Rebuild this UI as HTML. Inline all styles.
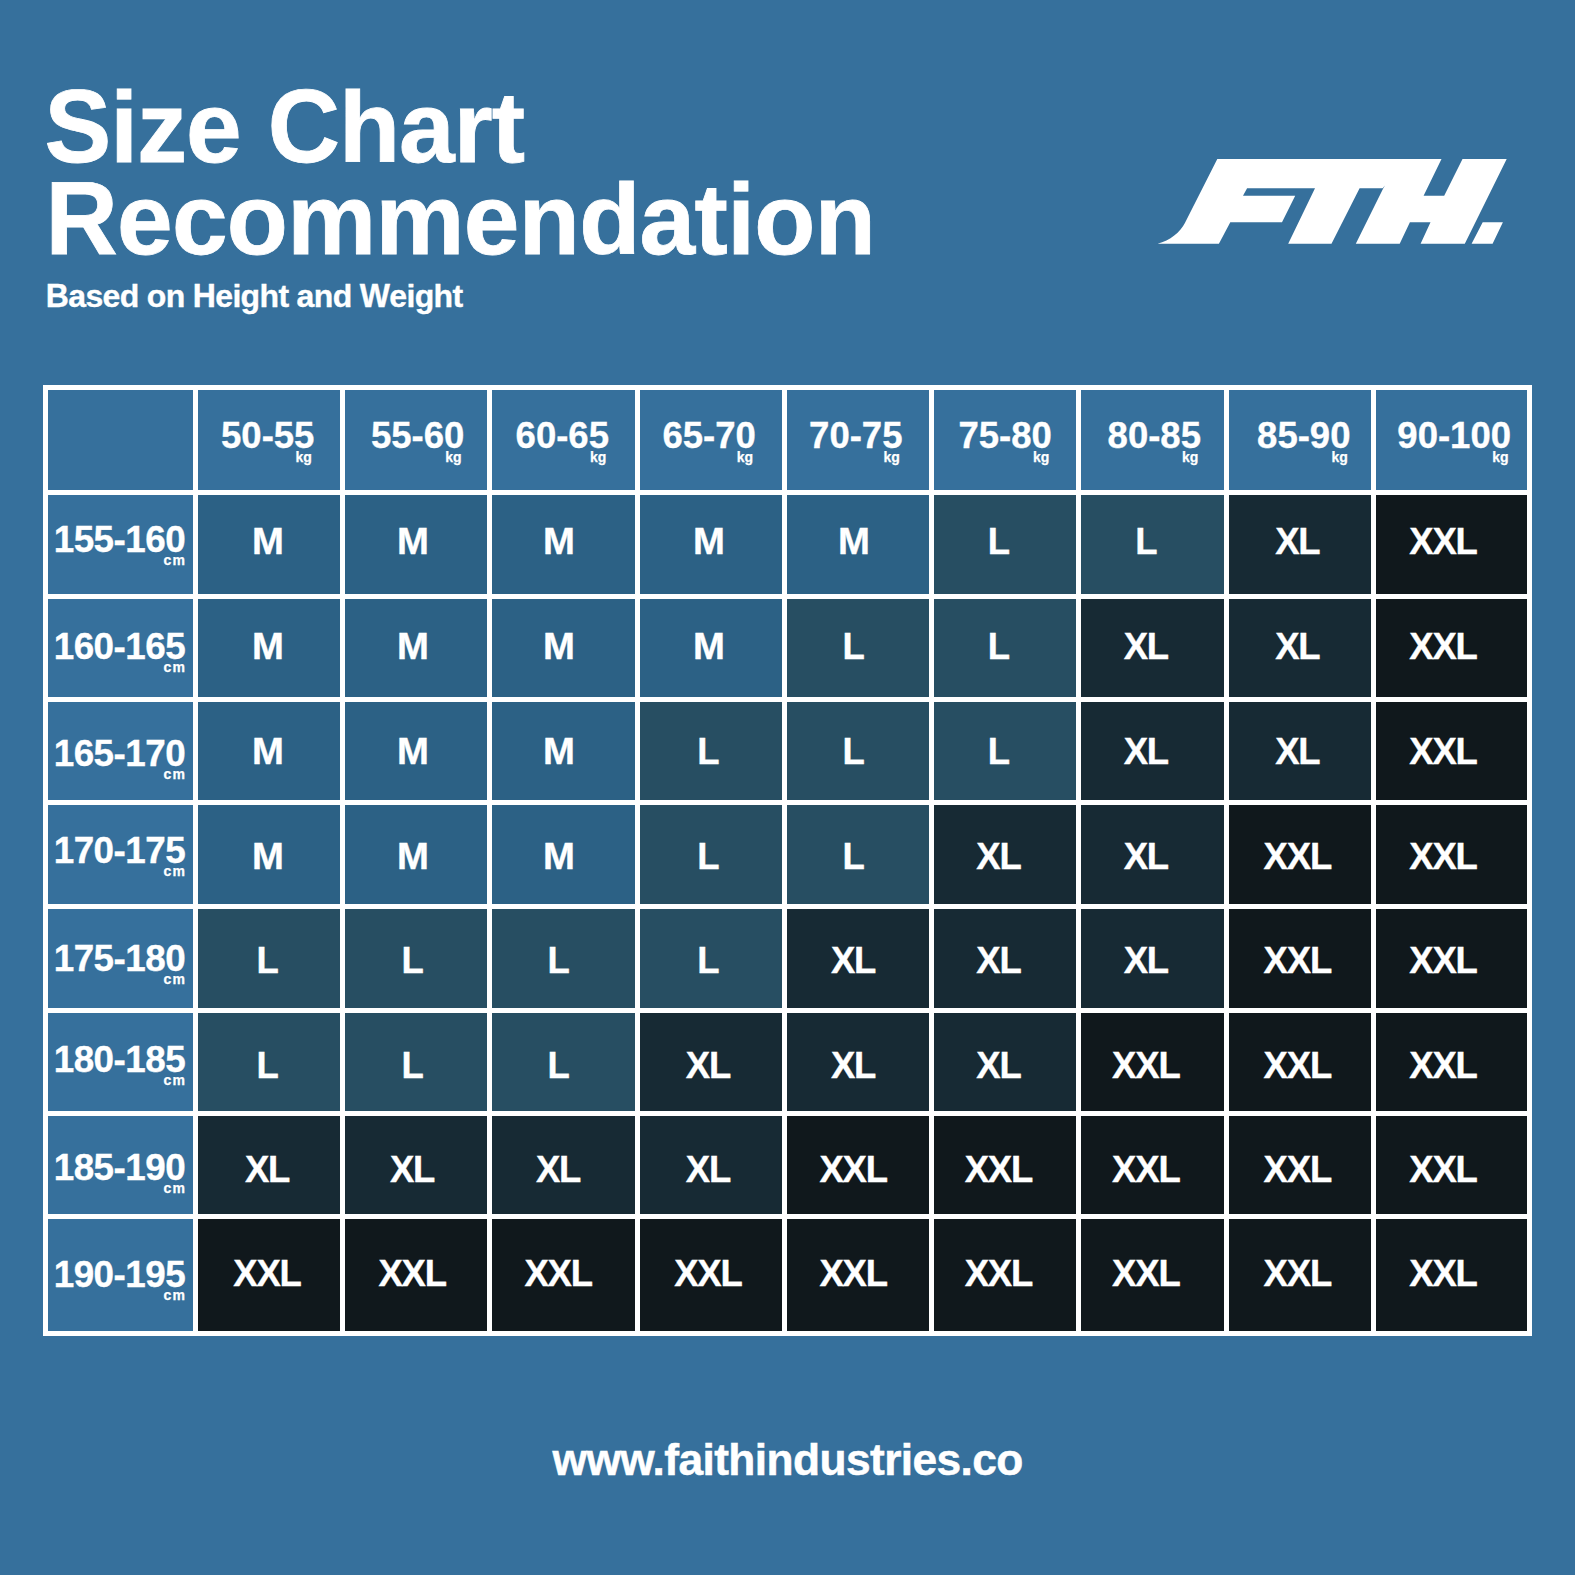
<!DOCTYPE html>
<html><head><meta charset="utf-8"><title>Size Chart Recommendation</title>
<style>
html,body{margin:0;padding:0;}
body{width:1575px;height:1575px;background:#36709c;position:relative;overflow:hidden;font-family:"Liberation Sans",sans-serif;font-weight:bold;color:#fff;}
.t{position:absolute;white-space:nowrap;line-height:1;}
.c{width:300px;text-align:center;}
.cap{display:inline-block;transform-origin:50% 85%;}
.s{-webkit-text-stroke:0.35px #fff;}
</style></head><body>
<div class="t" style="left:44.40px;top:77.40px;font-size:100px;letter-spacing:-0.93px;-webkit-text-stroke:0.8px #fff;"><span class="cap" style="transform:scaleY(1.045)">S</span>ize <span class="cap" style="transform:scaleY(1.045)">C</span>hart</div>
<div class="t" style="left:45.40px;top:169.20px;font-size:100px;letter-spacing:-0.66px;-webkit-text-stroke:0.8px #fff;"><span class="cap" style="transform:scaleY(1.045)">R</span>ecommendation</div>
<div class="t" style="left:45.80px;top:279.80px;font-size:32px;letter-spacing:-0.66px;-webkit-text-stroke:0.35px #fff;"><span class="cap" style="transform:scaleY(1.04)">B</span>ased on <span class="cap" style="transform:scaleY(1.04)">H</span>eight and <span class="cap" style="transform:scaleY(1.04)">W</span>eight</div>
<svg style="position:absolute;left:0;top:0" width="1575" height="300" viewBox="0 0 1575 300"><path fill="#fff" d="M1157.6,243.8 C1170,240.5 1180.5,232 1184.9,223 L1217.3,159 L1441.5,159 L1423.6,195.7 L1444.2,195.7 L1462.5,159 L1506.7,159 L1464.8,243.8 L1420.6,243.8 L1430.5,222.3 L1409.9,222.3 L1399.7,243.8 L1355.8,243.8 L1383.3,188.2 L1385,185.6 L1382.6,188.2 L1359.6,188.2 L1331.5,243.8 L1288.2,243.8 L1315,188.2 L1247.1,188.2 L1243,195.7 L1295.2,195.7 L1282,222.2 L1230.3,222.2 L1218.9,243.8 Z M1482.7,222.3 L1502.9,222.3 L1492.6,243.8 L1471.6,243.8 Z"/></svg>
<div style="position:absolute;left:43px;top:385px;width:1489px;height:951px;background:#fff"></div><div style="position:absolute;left:48px;top:390px;width:145px;height:100px;background:#36709c"></div><div style="position:absolute;left:198px;top:390px;width:142px;height:100px;background:#36709c"></div><div style="position:absolute;left:345px;top:390px;width:142px;height:100px;background:#36709c"></div><div style="position:absolute;left:492px;top:390px;width:143px;height:100px;background:#36709c"></div><div style="position:absolute;left:640px;top:390px;width:142px;height:100px;background:#36709c"></div><div style="position:absolute;left:787px;top:390px;width:142px;height:100px;background:#36709c"></div><div style="position:absolute;left:934px;top:390px;width:142px;height:100px;background:#36709c"></div><div style="position:absolute;left:1081px;top:390px;width:143px;height:100px;background:#36709c"></div><div style="position:absolute;left:1229px;top:390px;width:142px;height:100px;background:#36709c"></div><div style="position:absolute;left:1376px;top:390px;width:151px;height:100px;background:#36709c"></div><div style="position:absolute;left:48px;top:495px;width:145px;height:99px;background:#36709c"></div><div style="position:absolute;left:198px;top:495px;width:142px;height:99px;background:#2c6185"></div><div style="position:absolute;left:345px;top:495px;width:142px;height:99px;background:#2c6185"></div><div style="position:absolute;left:492px;top:495px;width:143px;height:99px;background:#2c6185"></div><div style="position:absolute;left:640px;top:495px;width:142px;height:99px;background:#2c6185"></div><div style="position:absolute;left:787px;top:495px;width:142px;height:99px;background:#2c6185"></div><div style="position:absolute;left:934px;top:495px;width:142px;height:99px;background:#274e62"></div><div style="position:absolute;left:1081px;top:495px;width:143px;height:99px;background:#274e62"></div><div style="position:absolute;left:1229px;top:495px;width:142px;height:99px;background:#172a34"></div><div style="position:absolute;left:1376px;top:495px;width:151px;height:99px;background:#10181c"></div><div style="position:absolute;left:48px;top:599px;width:145px;height:98px;background:#36709c"></div><div style="position:absolute;left:198px;top:599px;width:142px;height:98px;background:#2c6185"></div><div style="position:absolute;left:345px;top:599px;width:142px;height:98px;background:#2c6185"></div><div style="position:absolute;left:492px;top:599px;width:143px;height:98px;background:#2c6185"></div><div style="position:absolute;left:640px;top:599px;width:142px;height:98px;background:#2c6185"></div><div style="position:absolute;left:787px;top:599px;width:142px;height:98px;background:#274e62"></div><div style="position:absolute;left:934px;top:599px;width:142px;height:98px;background:#274e62"></div><div style="position:absolute;left:1081px;top:599px;width:143px;height:98px;background:#172a34"></div><div style="position:absolute;left:1229px;top:599px;width:142px;height:98px;background:#172a34"></div><div style="position:absolute;left:1376px;top:599px;width:151px;height:98px;background:#10181c"></div><div style="position:absolute;left:48px;top:702px;width:145px;height:98px;background:#36709c"></div><div style="position:absolute;left:198px;top:702px;width:142px;height:98px;background:#2c6185"></div><div style="position:absolute;left:345px;top:702px;width:142px;height:98px;background:#2c6185"></div><div style="position:absolute;left:492px;top:702px;width:143px;height:98px;background:#2c6185"></div><div style="position:absolute;left:640px;top:702px;width:142px;height:98px;background:#274e62"></div><div style="position:absolute;left:787px;top:702px;width:142px;height:98px;background:#274e62"></div><div style="position:absolute;left:934px;top:702px;width:142px;height:98px;background:#274e62"></div><div style="position:absolute;left:1081px;top:702px;width:143px;height:98px;background:#172a34"></div><div style="position:absolute;left:1229px;top:702px;width:142px;height:98px;background:#172a34"></div><div style="position:absolute;left:1376px;top:702px;width:151px;height:98px;background:#10181c"></div><div style="position:absolute;left:48px;top:805px;width:145px;height:99px;background:#36709c"></div><div style="position:absolute;left:198px;top:805px;width:142px;height:99px;background:#2c6185"></div><div style="position:absolute;left:345px;top:805px;width:142px;height:99px;background:#2c6185"></div><div style="position:absolute;left:492px;top:805px;width:143px;height:99px;background:#2c6185"></div><div style="position:absolute;left:640px;top:805px;width:142px;height:99px;background:#274e62"></div><div style="position:absolute;left:787px;top:805px;width:142px;height:99px;background:#274e62"></div><div style="position:absolute;left:934px;top:805px;width:142px;height:99px;background:#172a34"></div><div style="position:absolute;left:1081px;top:805px;width:143px;height:99px;background:#172a34"></div><div style="position:absolute;left:1229px;top:805px;width:142px;height:99px;background:#10181c"></div><div style="position:absolute;left:1376px;top:805px;width:151px;height:99px;background:#10181c"></div><div style="position:absolute;left:48px;top:909px;width:145px;height:99px;background:#36709c"></div><div style="position:absolute;left:198px;top:909px;width:142px;height:99px;background:#274e62"></div><div style="position:absolute;left:345px;top:909px;width:142px;height:99px;background:#274e62"></div><div style="position:absolute;left:492px;top:909px;width:143px;height:99px;background:#274e62"></div><div style="position:absolute;left:640px;top:909px;width:142px;height:99px;background:#274e62"></div><div style="position:absolute;left:787px;top:909px;width:142px;height:99px;background:#172a34"></div><div style="position:absolute;left:934px;top:909px;width:142px;height:99px;background:#172a34"></div><div style="position:absolute;left:1081px;top:909px;width:143px;height:99px;background:#172a34"></div><div style="position:absolute;left:1229px;top:909px;width:142px;height:99px;background:#10181c"></div><div style="position:absolute;left:1376px;top:909px;width:151px;height:99px;background:#10181c"></div><div style="position:absolute;left:48px;top:1013px;width:145px;height:98px;background:#36709c"></div><div style="position:absolute;left:198px;top:1013px;width:142px;height:98px;background:#274e62"></div><div style="position:absolute;left:345px;top:1013px;width:142px;height:98px;background:#274e62"></div><div style="position:absolute;left:492px;top:1013px;width:143px;height:98px;background:#274e62"></div><div style="position:absolute;left:640px;top:1013px;width:142px;height:98px;background:#172a34"></div><div style="position:absolute;left:787px;top:1013px;width:142px;height:98px;background:#172a34"></div><div style="position:absolute;left:934px;top:1013px;width:142px;height:98px;background:#172a34"></div><div style="position:absolute;left:1081px;top:1013px;width:143px;height:98px;background:#10181c"></div><div style="position:absolute;left:1229px;top:1013px;width:142px;height:98px;background:#10181c"></div><div style="position:absolute;left:1376px;top:1013px;width:151px;height:98px;background:#10181c"></div><div style="position:absolute;left:48px;top:1116px;width:145px;height:98px;background:#36709c"></div><div style="position:absolute;left:198px;top:1116px;width:142px;height:98px;background:#172a34"></div><div style="position:absolute;left:345px;top:1116px;width:142px;height:98px;background:#172a34"></div><div style="position:absolute;left:492px;top:1116px;width:143px;height:98px;background:#172a34"></div><div style="position:absolute;left:640px;top:1116px;width:142px;height:98px;background:#172a34"></div><div style="position:absolute;left:787px;top:1116px;width:142px;height:98px;background:#10181c"></div><div style="position:absolute;left:934px;top:1116px;width:142px;height:98px;background:#10181c"></div><div style="position:absolute;left:1081px;top:1116px;width:143px;height:98px;background:#10181c"></div><div style="position:absolute;left:1229px;top:1116px;width:142px;height:98px;background:#10181c"></div><div style="position:absolute;left:1376px;top:1116px;width:151px;height:98px;background:#10181c"></div><div style="position:absolute;left:48px;top:1219px;width:145px;height:112px;background:#36709c"></div><div style="position:absolute;left:198px;top:1219px;width:142px;height:112px;background:#10181c"></div><div style="position:absolute;left:345px;top:1219px;width:142px;height:112px;background:#10181c"></div><div style="position:absolute;left:492px;top:1219px;width:143px;height:112px;background:#10181c"></div><div style="position:absolute;left:640px;top:1219px;width:142px;height:112px;background:#10181c"></div><div style="position:absolute;left:787px;top:1219px;width:142px;height:112px;background:#10181c"></div><div style="position:absolute;left:934px;top:1219px;width:142px;height:112px;background:#10181c"></div><div style="position:absolute;left:1081px;top:1219px;width:143px;height:112px;background:#10181c"></div><div style="position:absolute;left:1229px;top:1219px;width:142px;height:112px;background:#10181c"></div><div style="position:absolute;left:1376px;top:1219px;width:151px;height:112px;background:#10181c"></div><div class="t c" style="left:117.75px;top:418.18px;font-size:36.5px;letter-spacing:0.00px;-webkit-text-stroke:0.35px #fff;">50-55</div><div class="t" style="left:295.47px;top:449.50px;font-size:14px;letter-spacing:0.00px;-webkit-text-stroke:0.25px #fff;">kg</div><div class="t c" style="left:267.60px;top:418.18px;font-size:36.5px;letter-spacing:0.00px;-webkit-text-stroke:0.35px #fff;">55-60</div><div class="t" style="left:445.32px;top:449.50px;font-size:14px;letter-spacing:0.00px;-webkit-text-stroke:0.25px #fff;">kg</div><div class="t c" style="left:412.30px;top:418.18px;font-size:36.5px;letter-spacing:0.00px;-webkit-text-stroke:0.35px #fff;">60-65</div><div class="t" style="left:590.02px;top:449.50px;font-size:14px;letter-spacing:0.00px;-webkit-text-stroke:0.25px #fff;">kg</div><div class="t c" style="left:559.10px;top:418.18px;font-size:36.5px;letter-spacing:0.00px;-webkit-text-stroke:0.35px #fff;">65-70</div><div class="t" style="left:736.83px;top:449.50px;font-size:14px;letter-spacing:0.00px;-webkit-text-stroke:0.25px #fff;">kg</div><div class="t c" style="left:705.80px;top:418.18px;font-size:36.5px;letter-spacing:0.00px;-webkit-text-stroke:0.35px #fff;">70-75</div><div class="t" style="left:883.52px;top:449.50px;font-size:14px;letter-spacing:0.00px;-webkit-text-stroke:0.25px #fff;">kg</div><div class="t c" style="left:855.20px;top:418.18px;font-size:36.5px;letter-spacing:0.00px;-webkit-text-stroke:0.35px #fff;">75-80</div><div class="t" style="left:1032.92px;top:449.50px;font-size:14px;letter-spacing:0.00px;-webkit-text-stroke:0.25px #fff;">kg</div><div class="t c" style="left:1004.30px;top:418.18px;font-size:36.5px;letter-spacing:0.00px;-webkit-text-stroke:0.35px #fff;">80-85</div><div class="t" style="left:1182.02px;top:449.50px;font-size:14px;letter-spacing:0.00px;-webkit-text-stroke:0.25px #fff;">kg</div><div class="t c" style="left:1153.80px;top:418.18px;font-size:36.5px;letter-spacing:0.00px;-webkit-text-stroke:0.35px #fff;">85-90</div><div class="t" style="left:1331.52px;top:449.50px;font-size:14px;letter-spacing:0.00px;-webkit-text-stroke:0.25px #fff;">kg</div><div class="t c" style="left:1304.20px;top:418.18px;font-size:36.5px;letter-spacing:0.00px;-webkit-text-stroke:0.35px #fff;">90-100</div><div class="t" style="left:1492.33px;top:449.50px;font-size:14px;letter-spacing:0.00px;-webkit-text-stroke:0.25px #fff;">kg</div><div class="t" style="left:53.69px;top:521.72px;font-size:36.8px;letter-spacing:-0.50px;-webkit-text-stroke:0.35px #fff;">155-160</div><div class="t" style="left:163.38px;top:552.70px;font-size:14px;letter-spacing:1.40px;-webkit-text-stroke:0.25px #fff;">cm</div><div class="t" style="left:53.69px;top:628.52px;font-size:36.8px;letter-spacing:-0.50px;-webkit-text-stroke:0.35px #fff;">160-165</div><div class="t" style="left:163.38px;top:659.50px;font-size:14px;letter-spacing:1.40px;-webkit-text-stroke:0.25px #fff;">cm</div><div class="t" style="left:53.69px;top:736.42px;font-size:36.8px;letter-spacing:-0.50px;-webkit-text-stroke:0.35px #fff;">165-170</div><div class="t" style="left:163.38px;top:767.40px;font-size:14px;letter-spacing:1.40px;-webkit-text-stroke:0.25px #fff;">cm</div><div class="t" style="left:53.69px;top:833.02px;font-size:36.8px;letter-spacing:-0.50px;-webkit-text-stroke:0.35px #fff;">170-175</div><div class="t" style="left:163.38px;top:864.00px;font-size:14px;letter-spacing:1.40px;-webkit-text-stroke:0.25px #fff;">cm</div><div class="t" style="left:53.69px;top:940.62px;font-size:36.8px;letter-spacing:-0.50px;-webkit-text-stroke:0.35px #fff;">175-180</div><div class="t" style="left:163.38px;top:971.60px;font-size:14px;letter-spacing:1.40px;-webkit-text-stroke:0.25px #fff;">cm</div><div class="t" style="left:53.69px;top:1042.12px;font-size:36.8px;letter-spacing:-0.50px;-webkit-text-stroke:0.35px #fff;">180-185</div><div class="t" style="left:163.38px;top:1073.10px;font-size:14px;letter-spacing:1.40px;-webkit-text-stroke:0.25px #fff;">cm</div><div class="t" style="left:53.69px;top:1149.82px;font-size:36.8px;letter-spacing:-0.50px;-webkit-text-stroke:0.35px #fff;">185-190</div><div class="t" style="left:163.38px;top:1180.80px;font-size:14px;letter-spacing:1.40px;-webkit-text-stroke:0.25px #fff;">cm</div><div class="t" style="left:53.69px;top:1256.92px;font-size:36.8px;letter-spacing:-0.50px;-webkit-text-stroke:0.35px #fff;">190-195</div><div class="t" style="left:163.38px;top:1287.90px;font-size:14px;letter-spacing:1.40px;-webkit-text-stroke:0.25px #fff;">cm</div><div class="t c" style="left:117.60px;top:524.38px;font-size:36.5px;letter-spacing:0.00px;-webkit-text-stroke:0.35px #fff;transform:scaleX(1.05);">M</div><div class="t c" style="left:262.70px;top:524.38px;font-size:36.5px;letter-spacing:0.00px;-webkit-text-stroke:0.35px #fff;transform:scaleX(1.05);">M</div><div class="t c" style="left:408.70px;top:524.38px;font-size:36.5px;letter-spacing:0.00px;-webkit-text-stroke:0.35px #fff;transform:scaleX(1.05);">M</div><div class="t c" style="left:558.50px;top:524.38px;font-size:36.5px;letter-spacing:0.00px;-webkit-text-stroke:0.35px #fff;transform:scaleX(1.05);">M</div><div class="t c" style="left:703.70px;top:524.38px;font-size:36.5px;letter-spacing:0.00px;-webkit-text-stroke:0.35px #fff;transform:scaleX(1.05);">M</div><div class="t c" style="left:849.00px;top:524.38px;font-size:36.5px;letter-spacing:0.00px;-webkit-text-stroke:0.35px #fff;">L</div><div class="t c" style="left:996.40px;top:524.38px;font-size:36.5px;letter-spacing:0.00px;-webkit-text-stroke:0.35px #fff;">L</div><div class="t c" style="left:1147.30px;top:524.38px;font-size:36.5px;letter-spacing:-1.20px;-webkit-text-stroke:0.35px #fff;">XL</div><div class="t c" style="left:1293.00px;top:524.38px;font-size:36.5px;letter-spacing:-1.20px;-webkit-text-stroke:0.35px #fff;">XXL</div><div class="t c" style="left:117.60px;top:629.48px;font-size:36.5px;letter-spacing:0.00px;-webkit-text-stroke:0.35px #fff;transform:scaleX(1.05);">M</div><div class="t c" style="left:262.70px;top:629.48px;font-size:36.5px;letter-spacing:0.00px;-webkit-text-stroke:0.35px #fff;transform:scaleX(1.05);">M</div><div class="t c" style="left:408.70px;top:629.48px;font-size:36.5px;letter-spacing:0.00px;-webkit-text-stroke:0.35px #fff;transform:scaleX(1.05);">M</div><div class="t c" style="left:558.50px;top:629.48px;font-size:36.5px;letter-spacing:0.00px;-webkit-text-stroke:0.35px #fff;transform:scaleX(1.05);">M</div><div class="t c" style="left:703.70px;top:629.48px;font-size:36.5px;letter-spacing:0.00px;-webkit-text-stroke:0.35px #fff;">L</div><div class="t c" style="left:849.00px;top:629.48px;font-size:36.5px;letter-spacing:0.00px;-webkit-text-stroke:0.35px #fff;">L</div><div class="t c" style="left:995.80px;top:629.48px;font-size:36.5px;letter-spacing:-1.20px;-webkit-text-stroke:0.35px #fff;">XL</div><div class="t c" style="left:1147.30px;top:629.48px;font-size:36.5px;letter-spacing:-1.20px;-webkit-text-stroke:0.35px #fff;">XL</div><div class="t c" style="left:1293.00px;top:629.48px;font-size:36.5px;letter-spacing:-1.20px;-webkit-text-stroke:0.35px #fff;">XXL</div><div class="t c" style="left:117.60px;top:733.98px;font-size:36.5px;letter-spacing:0.00px;-webkit-text-stroke:0.35px #fff;transform:scaleX(1.05);">M</div><div class="t c" style="left:262.70px;top:733.98px;font-size:36.5px;letter-spacing:0.00px;-webkit-text-stroke:0.35px #fff;transform:scaleX(1.05);">M</div><div class="t c" style="left:408.70px;top:733.98px;font-size:36.5px;letter-spacing:0.00px;-webkit-text-stroke:0.35px #fff;transform:scaleX(1.05);">M</div><div class="t c" style="left:558.50px;top:733.98px;font-size:36.5px;letter-spacing:0.00px;-webkit-text-stroke:0.35px #fff;">L</div><div class="t c" style="left:703.70px;top:733.98px;font-size:36.5px;letter-spacing:0.00px;-webkit-text-stroke:0.35px #fff;">L</div><div class="t c" style="left:849.00px;top:733.98px;font-size:36.5px;letter-spacing:0.00px;-webkit-text-stroke:0.35px #fff;">L</div><div class="t c" style="left:995.80px;top:733.98px;font-size:36.5px;letter-spacing:-1.20px;-webkit-text-stroke:0.35px #fff;">XL</div><div class="t c" style="left:1147.30px;top:733.98px;font-size:36.5px;letter-spacing:-1.20px;-webkit-text-stroke:0.35px #fff;">XL</div><div class="t c" style="left:1293.00px;top:733.98px;font-size:36.5px;letter-spacing:-1.20px;-webkit-text-stroke:0.35px #fff;">XXL</div><div class="t c" style="left:117.60px;top:838.67px;font-size:36.5px;letter-spacing:0.00px;-webkit-text-stroke:0.35px #fff;transform:scaleX(1.05);">M</div><div class="t c" style="left:262.70px;top:838.67px;font-size:36.5px;letter-spacing:0.00px;-webkit-text-stroke:0.35px #fff;transform:scaleX(1.05);">M</div><div class="t c" style="left:408.70px;top:838.67px;font-size:36.5px;letter-spacing:0.00px;-webkit-text-stroke:0.35px #fff;transform:scaleX(1.05);">M</div><div class="t c" style="left:558.50px;top:838.67px;font-size:36.5px;letter-spacing:0.00px;-webkit-text-stroke:0.35px #fff;">L</div><div class="t c" style="left:703.70px;top:838.67px;font-size:36.5px;letter-spacing:0.00px;-webkit-text-stroke:0.35px #fff;">L</div><div class="t c" style="left:848.40px;top:838.67px;font-size:36.5px;letter-spacing:-1.20px;-webkit-text-stroke:0.35px #fff;">XL</div><div class="t c" style="left:995.80px;top:838.67px;font-size:36.5px;letter-spacing:-1.20px;-webkit-text-stroke:0.35px #fff;">XL</div><div class="t c" style="left:1147.30px;top:838.67px;font-size:36.5px;letter-spacing:-1.20px;-webkit-text-stroke:0.35px #fff;">XXL</div><div class="t c" style="left:1293.00px;top:838.67px;font-size:36.5px;letter-spacing:-1.20px;-webkit-text-stroke:0.35px #fff;">XXL</div><div class="t c" style="left:117.60px;top:942.77px;font-size:36.5px;letter-spacing:0.00px;-webkit-text-stroke:0.35px #fff;">L</div><div class="t c" style="left:262.70px;top:942.77px;font-size:36.5px;letter-spacing:0.00px;-webkit-text-stroke:0.35px #fff;">L</div><div class="t c" style="left:408.70px;top:942.77px;font-size:36.5px;letter-spacing:0.00px;-webkit-text-stroke:0.35px #fff;">L</div><div class="t c" style="left:558.50px;top:942.77px;font-size:36.5px;letter-spacing:0.00px;-webkit-text-stroke:0.35px #fff;">L</div><div class="t c" style="left:703.10px;top:942.77px;font-size:36.5px;letter-spacing:-1.20px;-webkit-text-stroke:0.35px #fff;">XL</div><div class="t c" style="left:848.40px;top:942.77px;font-size:36.5px;letter-spacing:-1.20px;-webkit-text-stroke:0.35px #fff;">XL</div><div class="t c" style="left:995.80px;top:942.77px;font-size:36.5px;letter-spacing:-1.20px;-webkit-text-stroke:0.35px #fff;">XL</div><div class="t c" style="left:1147.30px;top:942.77px;font-size:36.5px;letter-spacing:-1.20px;-webkit-text-stroke:0.35px #fff;">XXL</div><div class="t c" style="left:1293.00px;top:942.77px;font-size:36.5px;letter-spacing:-1.20px;-webkit-text-stroke:0.35px #fff;">XXL</div><div class="t c" style="left:117.60px;top:1047.57px;font-size:36.5px;letter-spacing:0.00px;-webkit-text-stroke:0.35px #fff;">L</div><div class="t c" style="left:262.70px;top:1047.57px;font-size:36.5px;letter-spacing:0.00px;-webkit-text-stroke:0.35px #fff;">L</div><div class="t c" style="left:408.70px;top:1047.57px;font-size:36.5px;letter-spacing:0.00px;-webkit-text-stroke:0.35px #fff;">L</div><div class="t c" style="left:557.90px;top:1047.57px;font-size:36.5px;letter-spacing:-1.20px;-webkit-text-stroke:0.35px #fff;">XL</div><div class="t c" style="left:703.10px;top:1047.57px;font-size:36.5px;letter-spacing:-1.20px;-webkit-text-stroke:0.35px #fff;">XL</div><div class="t c" style="left:848.40px;top:1047.57px;font-size:36.5px;letter-spacing:-1.20px;-webkit-text-stroke:0.35px #fff;">XL</div><div class="t c" style="left:995.80px;top:1047.57px;font-size:36.5px;letter-spacing:-1.20px;-webkit-text-stroke:0.35px #fff;">XXL</div><div class="t c" style="left:1147.30px;top:1047.57px;font-size:36.5px;letter-spacing:-1.20px;-webkit-text-stroke:0.35px #fff;">XXL</div><div class="t c" style="left:1293.00px;top:1047.57px;font-size:36.5px;letter-spacing:-1.20px;-webkit-text-stroke:0.35px #fff;">XXL</div><div class="t c" style="left:117.00px;top:1151.87px;font-size:36.5px;letter-spacing:-1.20px;-webkit-text-stroke:0.35px #fff;">XL</div><div class="t c" style="left:262.10px;top:1151.87px;font-size:36.5px;letter-spacing:-1.20px;-webkit-text-stroke:0.35px #fff;">XL</div><div class="t c" style="left:408.10px;top:1151.87px;font-size:36.5px;letter-spacing:-1.20px;-webkit-text-stroke:0.35px #fff;">XL</div><div class="t c" style="left:557.90px;top:1151.87px;font-size:36.5px;letter-spacing:-1.20px;-webkit-text-stroke:0.35px #fff;">XL</div><div class="t c" style="left:703.10px;top:1151.87px;font-size:36.5px;letter-spacing:-1.20px;-webkit-text-stroke:0.35px #fff;">XXL</div><div class="t c" style="left:848.40px;top:1151.87px;font-size:36.5px;letter-spacing:-1.20px;-webkit-text-stroke:0.35px #fff;">XXL</div><div class="t c" style="left:995.80px;top:1151.87px;font-size:36.5px;letter-spacing:-1.20px;-webkit-text-stroke:0.35px #fff;">XXL</div><div class="t c" style="left:1147.30px;top:1151.87px;font-size:36.5px;letter-spacing:-1.20px;-webkit-text-stroke:0.35px #fff;">XXL</div><div class="t c" style="left:1293.00px;top:1151.87px;font-size:36.5px;letter-spacing:-1.20px;-webkit-text-stroke:0.35px #fff;">XXL</div><div class="t c" style="left:117.00px;top:1256.27px;font-size:36.5px;letter-spacing:-1.20px;-webkit-text-stroke:0.35px #fff;">XXL</div><div class="t c" style="left:262.10px;top:1256.27px;font-size:36.5px;letter-spacing:-1.20px;-webkit-text-stroke:0.35px #fff;">XXL</div><div class="t c" style="left:408.10px;top:1256.27px;font-size:36.5px;letter-spacing:-1.20px;-webkit-text-stroke:0.35px #fff;">XXL</div><div class="t c" style="left:557.90px;top:1256.27px;font-size:36.5px;letter-spacing:-1.20px;-webkit-text-stroke:0.35px #fff;">XXL</div><div class="t c" style="left:703.10px;top:1256.27px;font-size:36.5px;letter-spacing:-1.20px;-webkit-text-stroke:0.35px #fff;">XXL</div><div class="t c" style="left:848.40px;top:1256.27px;font-size:36.5px;letter-spacing:-1.20px;-webkit-text-stroke:0.35px #fff;">XXL</div><div class="t c" style="left:995.80px;top:1256.27px;font-size:36.5px;letter-spacing:-1.20px;-webkit-text-stroke:0.35px #fff;">XXL</div><div class="t c" style="left:1147.30px;top:1256.27px;font-size:36.5px;letter-spacing:-1.20px;-webkit-text-stroke:0.35px #fff;">XXL</div><div class="t c" style="left:1293.00px;top:1256.27px;font-size:36.5px;letter-spacing:-1.20px;-webkit-text-stroke:0.35px #fff;">XXL</div>
<div class="t" style="left:552.60px;top:1437.55px;font-size:44.3px;letter-spacing:-0.59px;-webkit-text-stroke:0.5px #fff;">www.faithindustries.co</div>
</body></html>
